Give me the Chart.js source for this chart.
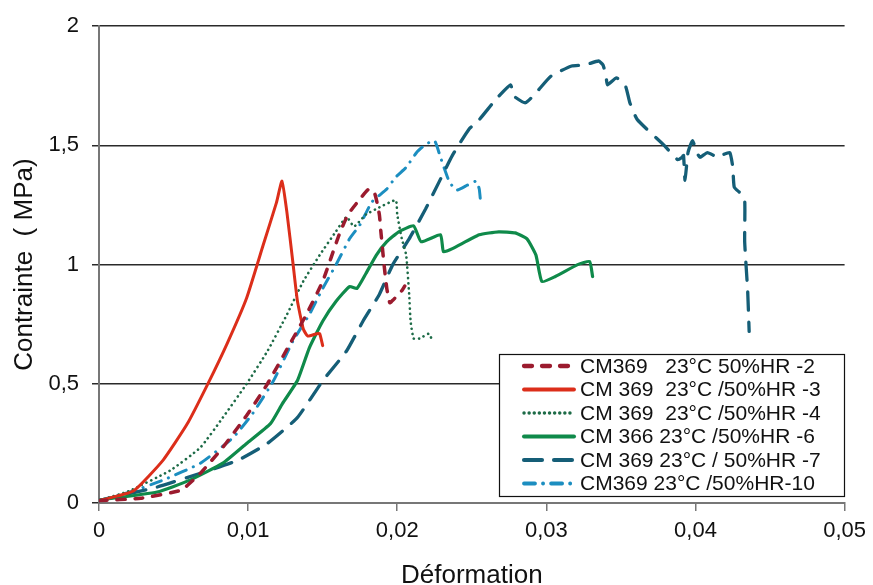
<!DOCTYPE html>
<html>
<head>
<meta charset="utf-8">
<script src="https://cdn.jsdelivr.net/npm/chart.js@4.4.1/dist/chart.umd.min.js"></script>
<style>
  html, body { margin: 0; padding: 0; background: #fff; }
  #wrap { width: 873px; height: 585px; position: relative; }
</style>
</head>
<body>
<div id="wrap"><canvas id="c" width="873" height="585"></canvas></div>
<script>
// ---- Data (x = Déformation, y = Contrainte MPa) ----
const seriesLabels = [
  'CM369   23°C 50%HR -2',
  'CM 369  23°C /50%HR -3',
  'CM 369  23°C /50%HR -4',
  'CM 366 23°C /50%HR -6',
  'CM 369 23°C / 50%HR -7',
  'CM369 23°C /50%HR-10'
];

const curve2 = [[0,0.01],[0.0028,0.02],[0.0055,0.054],[0.0068,0.125],[0.0083,0.233],[0.0099,0.367],[0.0113,0.5],[0.0128,0.667],[0.0139,0.79],[0.015,0.93],[0.0161,1.125],[0.0167,1.21],[0.0175,1.275],[0.0181,1.317],[0.0185,1.296],[0.0188,1.21],[0.0189,1.14],[0.0191,1.01],[0.0193,0.9],[0.0195,0.84],[0.0197,0.85],[0.0203,0.89],[0.0205,0.91]];

const curve3 = [[0,0.01],[0.0023,0.05],[0.0043,0.18],[0.0059,0.33],[0.0073,0.5],[0.0086,0.67],[0.0099,0.86],[0.011,1.08],[0.0119,1.26],[0.01227,1.35],[0.0126,1.22],[0.013,1.01],[0.0133,0.85],[0.0137,0.73],[0.014,0.70],[0.0146,0.71],[0.0148,0.71],[0.015,0.66]];

const curve4 = [[0,0.01],[0.002,0.05],[0.0048,0.1375],[0.0068,0.233],[0.0083,0.358],[0.0099,0.5],[0.0113,0.6375],[0.0126,0.79],[0.0137,0.93],[0.0148,1.04],[0.0159,1.14],[0.0166,1.2],[0.0171,1.16],[0.0179,1.21],[0.0188,1.24],[0.0199,1.27],[0.02,1.21],[0.0203,1.11],[0.0206,1.04],[0.0208,0.875],[0.0209,0.76],[0.0211,0.69],[0.0215,0.69],[0.0221,0.71],[0.0223,0.69]];

const curve6 = [[0,0.0125],[0.0039,0.046],[0.0061,0.096],[0.0083,0.167],[0.0099,0.25],[0.0115,0.333],[0.0123,0.417],[0.0133,0.5125],[0.0141,0.65],[0.015,0.7625],[0.0159,0.846],[0.0168,0.908],[0.0173,0.9],[0.0179,0.9625],[0.0186,1.04],[0.0193,1.096],[0.0201,1.1375],[0.0211,1.1625],[0.0216,1.096],[0.0229,1.125],[0.0231,1.054],[0.0237,1.067],[0.0255,1.125],[0.0268,1.1375],[0.0279,1.133],[0.0287,1.108],[0.0293,1.04],[0.0297,0.929],[0.0306,0.95],[0.0321,1.0],[0.0329,1.0125],[0.0331,0.95]];

const curve7 = [[0,0.01],[0.0039,0.067],[0.0068,0.125],[0.0093,0.179],[0.0113,0.25],[0.0133,0.358],[0.015,0.5125],[0.0166,0.6375],[0.0177,0.7625],[0.0188,0.875],[0.0197,1.0],[0.0208,1.108],[0.0219,1.233],[0.0228,1.346],[0.0237,1.458],[0.0248,1.567],[0.0255,1.608],[0.0266,1.692],[0.0276,1.754],[0.0278,1.708],[0.0286,1.679],[0.0293,1.72],[0.0303,1.79],[0.0317,1.833],[0.0326,1.8375],[0.0335,1.854],[0.0338,1.8375],[0.034,1.79],[0.0341,1.754],[0.0347,1.783],[0.0353,1.75],[0.0356,1.679],[0.0361,1.608],[0.0379,1.5],[0.0388,1.44],[0.0391,1.45],[0.0392,1.458],[0.0393,1.354],[0.0395,1.47],[0.0398,1.52],[0.0401,1.47],[0.0403,1.45],[0.0408,1.47],[0.0415,1.45],[0.0418,1.46],[0.0423,1.47],[0.0425,1.41],[0.0426,1.325],[0.043,1.30],[0.0433,1.27],[0.0433,1.096],[0.0435,0.89],[0.0436,0.72]];

const curve10 = [[0,0.01],[0.0021,0.046],[0.0043,0.096],[0.0068,0.167],[0.009,0.275],[0.0103,0.375],[0.0117,0.5125],[0.013,0.679],[0.0141,0.79],[0.015,0.9],[0.0159,1.0],[0.0168,1.108],[0.0175,1.167],[0.0183,1.2625],[0.0193,1.317],[0.0199,1.367],[0.0206,1.408],[0.0213,1.47],[0.0219,1.504],[0.0225,1.52],[0.0229,1.45],[0.0235,1.346],[0.024,1.3125],[0.0247,1.333],[0.0253,1.35],[0.0255,1.317],[0.0256,1.254]];

const xTickValues = [0, 0.01, 0.02, 0.03, 0.04, 0.05];
const xTickLabels = ['0', '0,01', '0,02', '0,03', '0,04', '0,05'];
const yTickValues = [0, 0.5, 1, 1.5, 2];
const yTickLabels = ['0', '0,5', '1', '1,5', '2'];

// ---- Styles ----
const styles = [
  { color: '#9B1B2E', width: 3.5, dash: [8, 10], cap: 'round' },
  { color: '#DC2E1A', width: 3, dash: [], cap: 'round' },
  { color: '#1D6B47', width: 2.6, dash: [0.1, 5], cap: 'round' },
  { color: '#0F8A4A', width: 3.2, dash: [], cap: 'round' },
  { color: '#155E77', width: 3.3, dash: [18, 12], cap: 'round' },
  { color: '#1C8EC0', width: 3, dash: [11, 8, 0.1, 8], cap: 'round' }
];
const curves = [curve2, curve3, curve4, curve6, curve7, curve10];

const datasets = curves.map((c, i) => ({
  label: seriesLabels[i],
  data: c.map(p => ({ x: p[0], y: p[1] })),
  showLine: true,
  borderColor: styles[i].color,
  backgroundColor: styles[i].color,
  borderWidth: styles[i].width,
  borderDash: styles[i].dash,
  borderCapStyle: styles[i].cap,
  borderJoinStyle: 'round',
  pointRadius: 0,
  tension: 0.15,
  fill: false
}));

const legendPlugin = {
  id: 'customLegend',
  afterDraw(chart) {
    const ctx = chart.ctx;
    ctx.save();
    const bx = 499.5, by = 354.5, bw = 345, bh = 142;
    ctx.fillStyle = '#fff';
    ctx.fillRect(bx, by, bw, bh);
    ctx.strokeStyle = '#111';
    ctx.lineWidth = 1.2;
    ctx.strokeRect(bx, by, bw, bh);
    ctx.font = '21px "Liberation Sans", Arial, sans-serif';
    ctx.textBaseline = 'middle';
    ctx.fillStyle = '#111';
    for (let i = 0; i < seriesLabels.length; i++) {
      const y = 366 + i * 23.5;
      const s = styles[i];
      ctx.beginPath();
      ctx.strokeStyle = s.color;
      ctx.lineWidth = s.width + 0.8;
      ctx.lineCap = s.cap;
      ctx.setLineDash(s.dash);
      ctx.moveTo(524, y);
      ctx.lineTo(574, y);
      ctx.stroke();
      ctx.setLineDash([]);
      ctx.fillText(seriesLabels[i], 580, y + 1);
    }
    ctx.restore();
  }
};

const tickFont = { family: '"Liberation Sans", Arial, sans-serif', size: 22 };
const titleFont = { family: '"Liberation Sans", Arial, sans-serif', size: 26 };

new Chart(document.getElementById('c'), {
  type: 'scatter',
  data: { datasets },
  options: {
    responsive: false,
    animation: false,
    layout: { padding: { top: 23, right: 25, left: 0, bottom: 0 } },
    plugins: { legend: { display: false }, tooltip: { enabled: false } },
    scales: {
      x: {
        type: 'linear',
        min: 0, max: 0.05,
        afterBuildTicks: s => { s.ticks = xTickValues.map(v => ({ value: v })); },
        afterFit: s => { s.height = 82; },
        ticks: {
          callback: (v, i) => xTickLabels[i],
          font: tickFont, color: '#111', padding: 7, maxRotation: 0, autoSkip: false
        },
        grid: { drawOnChartArea: false, drawTicks: true, tickLength: 8, color: '#777', lineWidth: 1.5 },
        border: { display: true, color: '#777', width: 2 },
        title: { display: true, text: 'Déformation', font: { ...titleFont, lineHeight: 0.7 }, color: '#111', padding: { top: 0, bottom: 0 } }
      },
      y: {
        type: 'linear',
        min: 0, max: 2,
        afterBuildTicks: s => { s.ticks = yTickValues.map(v => ({ value: v })); },
        afterFit: s => { s.width = 99; },
        ticks: {
          callback: (v, i) => yTickLabels[i],
          font: tickFont, color: '#111', padding: 13, autoSkip: false
        },
        grid: { drawOnChartArea: true, drawTicks: true, tickLength: 7, color: '#2a2a2a', lineWidth: 1.5 },
        border: { display: true, color: '#777', width: 2 },
        title: { display: true, text: 'Contrainte  ( MPa)', font: { ...titleFont, lineHeight: 1.2 }, color: '#111', padding: { top: 9, bottom: 0 } }
      }
    }
  },
  plugins: [legendPlugin]
});
</script>
</body>
</html>
